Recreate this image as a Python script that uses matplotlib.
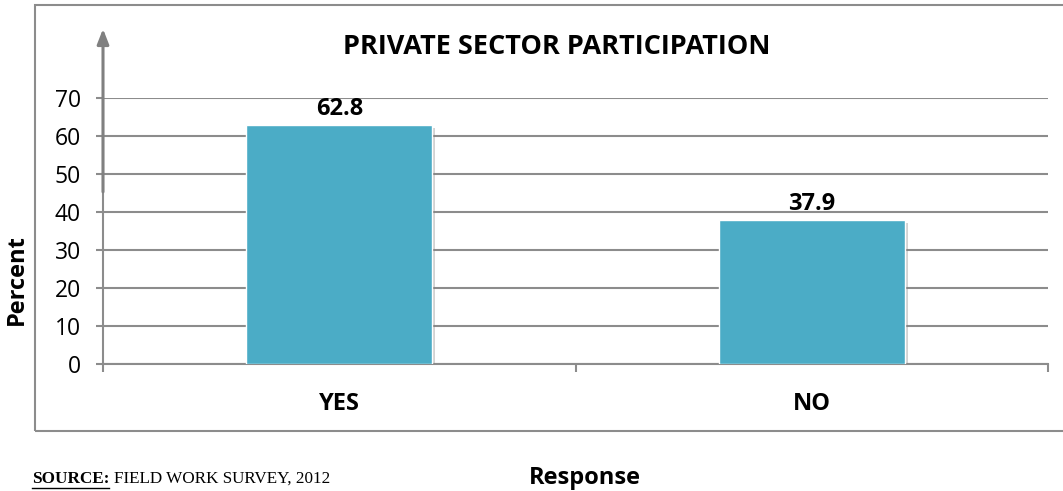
import matplotlib
matplotlib.use("Agg")
import matplotlib.pyplot as plt
import matplotlib.patheffects as pe
from matplotlib.patches import Rectangle

# survey responses
responses = ["YES", "NO"]
percent = [62.8, 37.9]
y_ticks = [0, 10, 20, 30, 40, 50, 60, 70]

bar_color = "#4BACC6"
grid_color = "#8c8c8c"
sans = "Open Sans"
serif = "Liberation Serif"

fig = plt.figure(figsize=(10.63, 4.91), dpi=100)
ax = fig.add_axes([0.0969, 0.2587, 0.8890, 0.5417])

# outer chart frame (open on the right side)
frame = Rectangle((35 / 1063, 1 - 431 / 491), 1.1, (431 - 5) / 491,
                  transform=fig.transFigure, fill=False,
                  edgecolor=grid_color, linewidth=1.5, clip_on=False)
fig.patches.append(frame)

x = range(len(responses))
bars = ax.bar(x, percent, width=0.394, color=bar_color,
              edgecolor="white", linewidth=1.0, zorder=3)
for b in bars:
    b.set_path_effects([pe.SimplePatchShadow(offset=(2, -2), shadow_rgbFace="gray", alpha=0.35),
                        pe.Normal()])

for xi, v in zip(x, percent):
    ax.annotate(f"{v}", (xi, v), xytext=(0, 3), textcoords="offset points",
                ha="center", va="bottom", fontsize=17, fontweight="bold",
                family=sans)

ax.set_xlim(-0.5, 1.5)
ax.set_ylim(0, 70)
ax.set_yticks(y_ticks)
ax.set_yticklabels([str(t) for t in y_ticks], fontsize=16.5, family=sans)
ax.set_xticks([-0.5, 0.5, 1.5], minor=True)
ax.set_xticks(list(x))
ax.set_xticklabels(responses, fontsize=17, fontweight="bold", family=sans)
ax.tick_params(axis="x", which="major", length=0, pad=20)
ax.tick_params(axis="x", which="minor", length=6, width=1.5, color=grid_color)
ax.tick_params(axis="y", length=5, width=1.5, color=grid_color, pad=11)

ax.yaxis.grid(True, color=grid_color, linewidth=1.5, zorder=0)
ax.set_axisbelow(True)
for side in ["top", "right"]:
    ax.spines[side].set_visible(False)
for side in ["left", "bottom"]:
    ax.spines[side].set_color(grid_color)
    ax.spines[side].set_linewidth(1.5)

# arrow drawn over the value axis
ax.annotate("", xy=(-0.5, 88.2), xytext=(-0.5, 45.3), annotation_clip=False,
            arrowprops=dict(arrowstyle="-|>,head_length=0.9,head_width=0.35",
                            color="#808080", linewidth=2.2, shrinkA=0, shrinkB=0))

fig.text(0.524, 1 - 47 / 491, "PRIVATE SECTOR PARTICIPATION", ha="center", va="center",
         fontsize=19.5, fontweight="bold", family=sans)
fig.text(17 / 1063, 1 - 280 / 491, "Percent", rotation=90, ha="center", va="center",
         fontsize=17, fontweight="bold", family=sans)
fig.text(585 / 1063, 1 - 478 / 491, "Response", ha="center", va="center",
         fontsize=17, fontweight="bold", family=sans)

src = fig.text(32 / 1063, 1 - 479 / 491, "SOURCE:", ha="left", va="center",
               fontsize=12.3, fontweight="bold", family=serif)
fig.canvas.draw()
bb = src.get_window_extent()
fig.text(bb.x1 / 1063 + 0.004, 1 - 479 / 491, "FIELD WORK SURVEY, 2012", ha="left",
         va="center", fontsize=12.3, family=serif)
# underline under SOURCE:
fig.add_artist(plt.Line2D([bb.x0 / 1063, bb.x1 / 1063], [(bb.y0 - 1) / 491] * 2,
                          color="black", linewidth=1.0, transform=fig.transFigure))

fig.savefig("out.png", dpi=100)
